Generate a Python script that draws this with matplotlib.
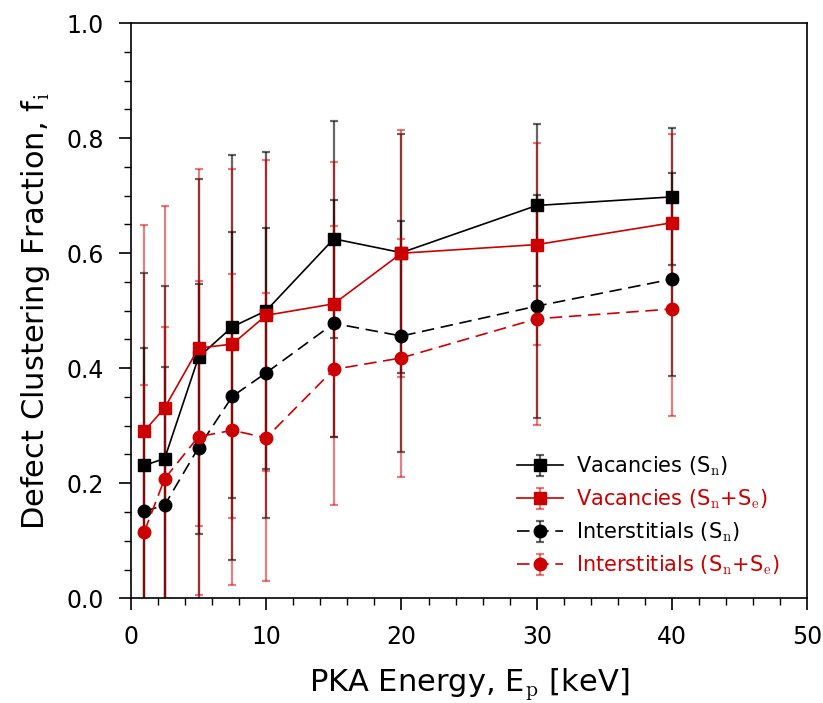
import numpy as np
import matplotlib
matplotlib.use('Agg')
import matplotlib.pyplot as plt
from matplotlib.ticker import MultipleLocator

plt.rcParams['mathtext.fontset'] = 'cm'

# PKA energies (keV)
energy = [1, 2.5, 5, 7.5, 10, 15, 20, 30, 40]

# clustering fractions + error bar extents
vac_sn = [0.231, 0.243, 0.419, 0.472, 0.500, 0.625, 0.601, 0.683, 0.698]
vac_sn_lo = [-0.10, -0.06, 0.111, 0.174, 0.224, 0.452, 0.391, 0.543, 0.579]
vac_sn_hi = [0.566, 0.543, 0.729, 0.770, 0.776, 0.830, 0.808, 0.824, 0.817]

vac_snse = [0.291, 0.331, 0.435, 0.442, 0.492, 0.512, 0.600, 0.615, 0.653]
vac_snse_lo = [-0.07, -0.02, 0.126, 0.139, 0.222, 0.281, 0.385, 0.440, 0.499]
vac_snse_hi = [0.649, 0.682, 0.747, 0.747, 0.762, 0.758, 0.815, 0.792, 0.807]

int_sn = [0.151, 0.162, 0.262, 0.351, 0.392, 0.478, 0.456, 0.508, 0.555]
int_sn_lo = [-0.13, -0.08, -0.02, 0.067, 0.140, 0.281, 0.254, 0.314, 0.387]
int_sn_hi = [0.435, 0.403, 0.546, 0.637, 0.643, 0.692, 0.656, 0.702, 0.739]

int_snse = [0.116, 0.208, 0.281, 0.292, 0.279, 0.398, 0.418, 0.486, 0.503]
int_snse_lo = [-0.14, -0.06, 0.006, 0.023, 0.030, 0.162, 0.211, 0.301, 0.317]
int_snse_hi = [0.370, 0.472, 0.552, 0.563, 0.530, 0.648, 0.624, 0.677, 0.689]

RED = '#cc0000'


def yerr(y, lo, hi):
    y = np.array(y)
    return [y - np.array(lo), np.array(hi) - y]


fig = plt.figure(figsize=(8.23, 7.03), dpi=100)
ax = fig.add_axes([0.159, 0.149, 0.822, 0.818])

dash = (0, (7.5, 4))
series = [
    (vac_sn, vac_sn_lo, vac_sn_hi, 'k', 's', '-', r'Vacancies (S$_\mathrm{n}$)'),
    (vac_snse, vac_snse_lo, vac_snse_hi, RED, 's', '-',
     r'Vacancies (S$_\mathrm{n}$+S$_\mathrm{e}$)'),
    (int_sn, int_sn_lo, int_sn_hi, 'k', 'o', dash, r'Interstitials (S$_\mathrm{n}$)'),
    (int_snse, int_snse_lo, int_snse_hi, RED, 'o', dash,
     r'Interstitials (S$_\mathrm{n}$+S$_\mathrm{e}$)'),
]

for y, lo, hi, c, m, ls, lab in series:
    ecol = matplotlib.colors.to_rgba(c, 0.6 if c == 'k' else 0.5)
    eb = ax.errorbar(energy, y, yerr=yerr(y, lo, hi), color=c, marker=m, ms=9,
                     lw=1.2, ecolor=ecol, elinewidth=1.6, capsize=3, capthick=1.6,
                     label=lab)
    eb[0].set_linestyle(ls)

ax.set_xlim(0, 50)
ax.set_ylim(0, 1.0)
ax.xaxis.set_major_locator(MultipleLocator(10))
ax.xaxis.set_minor_locator(MultipleLocator(2))
ax.yaxis.set_major_locator(MultipleLocator(0.2))
ax.yaxis.set_minor_locator(MultipleLocator(0.05))
ax.tick_params(which='major', direction='out', length=8.5, width=1.2, labelsize=17,
               pad=11, top=False, right=False)
ax.tick_params(which='minor', direction='out', length=5, width=1.0,
               top=False, right=False)
for s in ax.spines.values():
    s.set_linewidth(1.2)

ax.set_xlabel(r'PKA Energy, E$_\mathrm{p}$ [keV]', fontsize=22, labelpad=12)
ax.set_ylabel(r'Defect Clustering Fraction, f$_\mathrm{i}$', fontsize=22, labelpad=10)

leg = ax.legend(loc='lower right', bbox_to_anchor=(0.9705, 0.0226), borderaxespad=0,
                frameon=False, fontsize=15, handlelength=2.2, handletextpad=0.6,
                labelspacing=0.45)
for t, (_, _, _, c, _, _, _) in zip(leg.get_texts(), series):
    t.set_color(c)

fig.savefig('out.png', dpi=100)
